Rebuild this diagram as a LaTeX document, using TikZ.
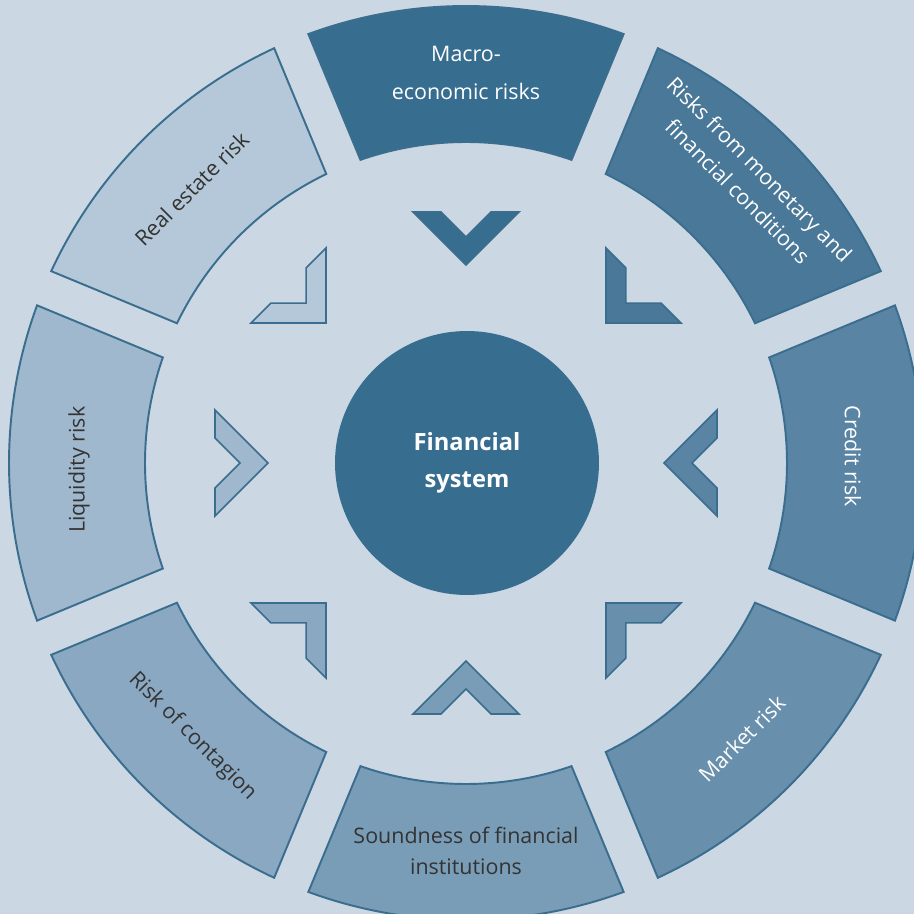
\documentclass[tikz,border=0pt]{standalone}
\usepackage{fontspec}
\setmainfont{Open Sans}
\definecolor{bg}{HTML}{CBD8E4}
\definecolor{cline}{HTML}{3A6D8E}
\definecolor{cmacro}{HTML}{376D8F}
\definecolor{cmon}{HTML}{4A7898}
\definecolor{ccred}{HTML}{5A84A3}
\definecolor{cmark}{HTML}{6890AC}
\definecolor{csound}{HTML}{799DB7}
\definecolor{ccont}{HTML}{8AA8C1}
\definecolor{cliq}{HTML}{A0B8CD}
\definecolor{creal}{HTML}{B4C8D9}
\definecolor{ctext}{HTML}{333333}

\begin{document}
\begin{tikzpicture}[scale=0.02,
    seg/.style={draw=cline, line width=1.1pt, line join=miter},
    chev/.style={draw=cline, line width=0.9pt, line join=miter},
    lbl/.style={align=center, inner sep=0pt, font=\fontsize{12.2}{17.6}\selectfont}]

    % --- 1. variables ---
    \pgfmathsetmacro{\ro}{457}
    \pgfmathsetmacro{\ri}{321}
    \pgfmathsetmacro{\g}{18.5}
    \pgfmathsetmacro{\dao}{asin(\g/\ro)}
    \pgfmathsetmacro{\dai}{asin(\g/\ri)}

    % --- 2. background ---
    \useasboundingbox (-466,-451) rectangle (448,463);
    \clip (-466,-451) rectangle (448,463);
    \fill[bg] (-466,-451) rectangle (448,463);

    % --- 3. ring segments and inward chevrons ---
    \foreach \a/\col in {90/cmacro, 45/cmon, 0/ccred, -45/cmark,
                         -90/csound, -135/ccont, 180/cliq, 135/creal} {
        \draw[seg, fill=\col]
            ({\a+22.5-\dao}:\ro) arc[start angle={\a+22.5-\dao}, end angle={\a-22.5+\dao}, radius=\ro]
            -- ({\a-22.5+\dai}:\ri) arc[start angle={\a-22.5+\dai}, end angle={\a+22.5-\dai}, radius=\ri]
            -- cycle;
        \draw[chev, fill=\col, rotate=\a]
            (198,0) -- (251,53) -- (251,25) -- (226,0) -- (251,-25) -- (251,-53) -- cycle;
    }

    % --- 4. segment labels ---
    \foreach \a/\r/\rot/\tcol/\nm/\txt in {
            90/390/0/white/macro/{Macro-\\[3.5pt]economic risks},
            45/400/-45/white/monetary/{Risks from monetary and\\financial conditions},
            1/387/-90/white/credit/{Credit risk},
            -45/390/45/white/market/{Market risk},
            -90/388/0/ctext/soundness/{Soundness of financial\\institutions},
            -135/387/-45/ctext/contagion/{Risk of contagion},
            181/387/90/ctext/liquidity/{Liquidity risk},
            135/388/45/ctext/realestate/{Real estate risk}} {
        \node[lbl, text=\tcol, rotate=\rot] (\nm) at (\a:\r) {\txt};
    }

    % --- 5. centre ---
    \node[circle, fill=cmacro, inner sep=0pt, minimum size=5.28cm, text=white,
          align=center, font=\fontsize{13.5}{21}\selectfont\bfseries] (core) at (1,0)
          {Financial\\system};

\end{tikzpicture}
\end{document}
